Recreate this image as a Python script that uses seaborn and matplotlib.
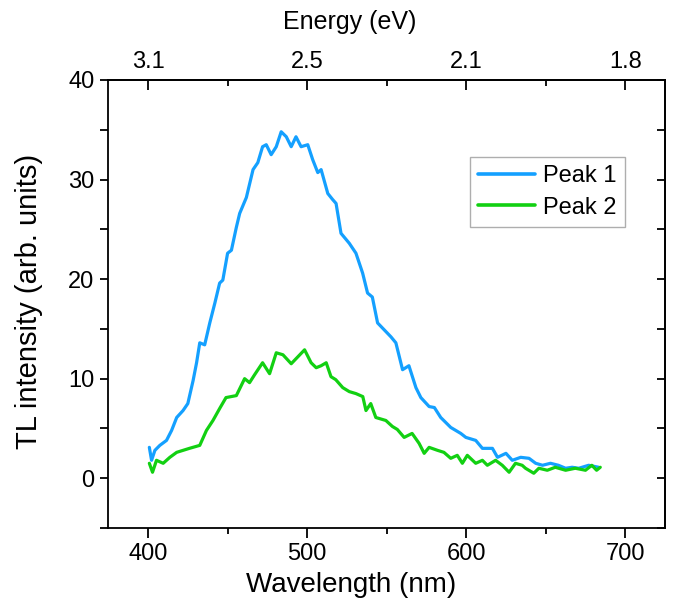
import matplotlib
matplotlib.use("Agg")
import matplotlib.pyplot as plt
from matplotlib.ticker import MultipleLocator, FixedLocator
import seaborn as sns
import pandas as pd

# ---- data ----
wl_peak1 = [400.8, 402.2, 404.3, 407.4, 411.6, 414.8, 418.0, 422.0, 425.0, 428.3,
            430.5, 432.5, 435.6, 438.8, 442.0, 445.0, 447.0, 450.0, 452.4, 455.5,
            457.6, 461.8, 466.0, 469.0, 472.0, 474.3, 477.4, 480.6, 483.7, 486.9,
            490.0, 493.0, 496.2, 500.4, 503.5, 506.7, 508.8, 513.0, 516.0, 518.2,
            521.3, 526.5, 530.7, 534.9, 538.0, 541.0, 544.3, 548.5, 552.7, 555.8,
            560.0, 564.0, 568.4, 571.5, 576.7, 580.0, 584.0, 590.3, 596.6, 599.8,
            606.0, 610.2, 616.5, 619.7, 625.0, 629.0, 634.3, 639.5, 643.7, 648.0,
            653.0, 658.0, 662.5, 666.6, 670.8, 677.0, 683.3]
peak1 = [3.1, 1.8, 2.8, 3.3, 3.8, 4.8, 6.1, 6.8, 7.5, 9.8,
         11.6, 13.6, 13.4, 15.6, 17.6, 19.6, 19.9, 22.6, 22.9, 25.2,
         26.6, 28.2, 31.0, 31.7, 33.3, 33.5, 32.5, 33.3, 34.8, 34.3,
         33.3, 34.3, 33.3, 33.5, 32.0, 30.7, 31.0, 28.6, 28.0, 27.6,
         24.6, 23.6, 22.6, 20.6, 18.6, 18.2, 15.6, 14.9, 14.2, 13.6,
         10.9, 11.3, 9.1, 8.1, 7.2, 7.1, 6.1, 5.1, 4.5, 4.1,
         3.8, 3.0, 3.0, 2.1, 2.5, 1.8, 2.1, 2.0, 1.5, 1.3,
         1.5, 1.3, 1.0, 1.1, 1.0, 1.3, 1.1]

wl_peak2 = [400.8, 402.8, 405.3, 409.5, 413.7, 418.0, 422.0, 426.0, 432.5, 436.7,
            440.8, 445.0, 449.0, 455.5, 460.7, 463.8, 467.0, 472.0, 476.4, 480.6,
            484.8, 490.0, 494.2, 498.4, 502.5, 505.7, 508.8, 512.0, 515.0, 518.0,
            522.4, 526.5, 530.7, 535.0, 537.0, 540.0, 543.2, 549.5, 553.6, 556.7,
            561.0, 566.0, 570.4, 573.6, 576.7, 582.0, 586.0, 590.3, 594.4, 597.6,
            600.7, 606.0, 610.2, 613.3, 618.5, 622.7, 627.0, 631.0, 635.2, 637.3,
            642.5, 645.7, 651.0, 656.0, 662.5, 668.6, 675.0, 679.0, 682.0, 684.3]
peak2 = [1.5, 0.6, 1.8, 1.5, 2.1, 2.6, 2.8, 3.0, 3.3, 4.8,
         5.8, 7.0, 8.1, 8.3, 10.0, 9.6, 10.4, 11.6, 10.5, 12.6,
         12.4, 11.5, 12.2, 12.9, 11.6, 11.1, 11.3, 11.6, 10.2, 9.9,
         9.1, 8.7, 8.5, 8.2, 6.8, 7.5, 6.1, 5.8, 5.2, 4.9,
         4.1, 4.5, 3.5, 2.5, 3.1, 2.8, 2.6, 2.0, 2.3, 1.5,
         2.3, 1.5, 1.8, 1.3, 1.8, 1.3, 0.6, 1.5, 1.3, 1.0,
         0.5, 1.0, 0.8, 1.1, 0.8, 1.0, 0.8, 1.3, 0.8, 1.1]

series_names = ["Peak 1", "Peak 2"]
series_colors = ["#14A0FF", "#12D012"]

wl_ticks = [400, 500, 600, 700]
wl_minor = [450, 550, 650]
energy_labels = ["3.1", "2.5", "2.1", "1.8"]

# ---- style ----
sns.set_style("ticks")
plt.rcParams["font.family"] = ["Liberation Sans", "DejaVu Sans"]
plt.rcParams["axes.linewidth"] = 1.3
for k in ["text.color", "axes.labelcolor", "xtick.color", "ytick.color",
          "axes.edgecolor"]:
    plt.rcParams[k] = "black"

df = pd.concat([
    pd.DataFrame({"Wavelength": wl_peak1, "Intensity": peak1, "Series": series_names[0]}),
    pd.DataFrame({"Wavelength": wl_peak2, "Intensity": peak2, "Series": series_names[1]}),
], ignore_index=True)

fig = plt.figure(figsize=(6.74, 6.01), dpi=100)
ax = fig.add_axes([108.3 / 674, 1 - 528 / 601, 556.7 / 674, 448 / 601])

sns.lineplot(data=df, x="Wavelength", y="Intensity", hue="Series",
             palette=series_colors, linewidth=2.3, sort=False, estimator=None,
             ax=ax)

ax.set_xlim(375, 725)
ax.set_ylim(-5, 40)

fs = 17
ax.xaxis.set_major_locator(FixedLocator(wl_ticks))
ax.xaxis.set_minor_locator(FixedLocator(wl_minor))
ax.yaxis.set_major_locator(MultipleLocator(10))
ax.yaxis.set_minor_locator(MultipleLocator(5))
ax.tick_params(axis="x", which="major", direction="out", length=7, width=1.3,
               labelsize=fs, pad=4, top=False, colors="black")
ax.tick_params(axis="x", which="minor", direction="out", length=4, width=1.3, top=False)
ax.tick_params(axis="y", which="both", direction="out", length=6, width=1.3,
               labelsize=fs, pad=4, right=False, colors="black")

for s in ax.spines.values():
    s.set_visible(True)
    s.set_linewidth(1.3)
    s.set_color("black")

# top energy axis
top = ax.secondary_xaxis("top")
top.xaxis.set_major_locator(FixedLocator(wl_ticks))
top.xaxis.set_minor_locator(FixedLocator(wl_minor))
top.set_xticklabels(energy_labels)
top.tick_params(axis="x", which="major", direction="in", length=7, width=1.3,
                labelsize=fs, pad=5, colors="black")
top.tick_params(axis="x", which="minor", direction="in", length=4, width=1.3)
fig.text(350 / 674, 1 - 22 / 601, "Energy (eV)", fontsize=18,
         ha="center", va="center", color="black")

# right axis ticks inward
right = ax.secondary_yaxis("right")
right.yaxis.set_major_locator(MultipleLocator(5))
right.tick_params(axis="y", which="both", direction="in", length=6, width=1.3,
                  labelright=False)

ax.set_xlabel("Wavelength (nm)", fontsize=20)
ax.set_ylabel("TL intensity (arb. units)", fontsize=21)
ax.xaxis.set_label_coords(0.437, -0.098)
ax.yaxis.set_label_coords(-0.118, 0.505)

leg = ax.legend(loc="upper left", bbox_to_anchor=(470 / 674, 1 - 157 / 601),
                bbox_transform=fig.transFigure, fontsize=fs, frameon=True,
                fancybox=False, edgecolor="#9a9a9a", borderaxespad=0,
                borderpad=0.35, labelspacing=0.4, handlelength=2.4,
                handletextpad=0.35, title=None)
leg.get_frame().set_linewidth(1.0)
for t in leg.get_texts():
    t.set_color("black")
for line in leg.get_lines():
    line.set_linewidth(2.6)

fig.savefig("out.png", dpi=100)
